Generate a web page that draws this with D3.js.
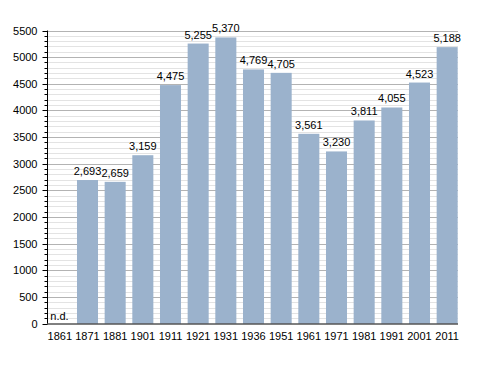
<!DOCTYPE html>
<html>
<head>
<meta charset="utf-8">
<script src="https://cdn.jsdelivr.net/npm/d3@7"></script>
<style>
  body { margin: 0; background: #fff; }
  text { font-family: "Liberation Sans", Arial, sans-serif; font-size: 11px; fill: #000; }
</style>
</head>
<body>
<div id="chart"></div>
<script>
// census years and population (1861 has no data)
const years = ["1861", "1871", "1881", "1901", "1911", "1921", "1931", "1936", "1951", "1961", "1971", "1981", "1991", "2001", "2011"];
const population = [null, 2693, 2659, 3159, 4475, 5255, 5370, 4769, 4705, 3561, 3230, 3811, 4055, 4523, 5188];
const yTicks = [0, 500, 1000, 1500, 2000, 2500, 3000, 3500, 4000, 4500, 5000, 5500];

const W = 488, H = 373;
const plotLeft = 47, plotRight = 458, plotTop = 30.5, plotBottom = 323.5;

const svg = d3.select("#chart")
  .append("svg")
  .attr("width", W)
  .attr("height", H);

const x = d3.scaleBand()
  .domain(years)
  .range([46, 461])
  .paddingInner(0.24)
  .paddingOuter(0.12);

const y = d3.scaleLinear()
  .domain([0, 5500])
  .range([plotBottom, plotTop]);

// minor grid every 100
const minor = d3.range(100, 5501, 100).filter(d => d % 500 !== 0);
svg.append("g")
  .selectAll("line")
  .data(minor)
  .enter()
  .append("line")
    .attr("x1", plotLeft).attr("x2", plotRight)
    .attr("y1", d => Math.round(y(d)) + 0.5)
    .attr("y2", d => Math.round(y(d)) + 0.5)
    .attr("stroke", "#e3e3e3");

// major grid every 500
svg.append("g")
  .selectAll("line")
  .data(yTicks.filter(d => d > 0))
  .enter()
  .append("line")
    .attr("x1", plotLeft).attr("x2", plotRight)
    .attr("y1", d => Math.round(y(d)) + 0.5)
    .attr("y2", d => Math.round(y(d)) + 0.5)
    .attr("stroke", "#b3b3b3");

// bars
svg.append("g")
  .selectAll("rect")
  .data(years.map((d, i) => ({year: d, value: population[i]})).filter(d => d.value !== null))
  .enter()
  .append("rect")
    .attr("x", d => x(d.year))
    .attr("y", d => y(d.value))
    .attr("width", x.bandwidth())
    .attr("height", d => y(0) - y(d.value))
    .attr("fill", "#9bb2cc");

// value labels
svg.append("g")
  .selectAll("text")
  .data(years.map((d, i) => ({year: d, value: population[i]})))
  .enter()
  .append("text")
    .attr("x", d => d.value === null ? x(d.year) + 1 : x(d.year) + x.bandwidth() / 2)
    .attr("y", d => d.value === null ? y(0) - 4 : y(d.value) - 5)
    .attr("text-anchor", d => d.value === null ? "start" : "middle")
    .text(d => d.value === null ? "n.d." : d3.format(",")(d.value));

// y axis with minor ticks
const yAxis = svg.append("g")
  .attr("transform", `translate(${plotLeft + 0.5},0)`);
yAxis.append("line")
  .attr("y1", plotTop).attr("y2", plotBottom)
  .attr("stroke", "#000");
yAxis.selectAll(".minor")
  .data(minor)
  .enter()
  .append("line")
    .attr("x1", -3).attr("x2", 0)
    .attr("y1", d => Math.round(y(d)) + 0.5)
    .attr("y2", d => Math.round(y(d)) + 0.5)
    .attr("stroke", "#000");
yAxis.selectAll(".major")
  .data(yTicks)
  .enter()
  .append("line")
    .attr("x1", -5).attr("x2", 0)
    .attr("y1", d => Math.round(y(d)) + 0.5)
    .attr("y2", d => Math.round(y(d)) + 0.5)
    .attr("stroke", "#000");
yAxis.selectAll("text")
  .data(yTicks)
  .enter()
  .append("text")
    .attr("x", -10)
    .attr("y", d => y(d) + 4)
    .attr("text-anchor", "end")
    .text(d => d);

// x axis
svg.append("line")
  .attr("x1", plotLeft).attr("x2", plotRight)
  .attr("y1", plotBottom + 0.5).attr("y2", plotBottom + 0.5)
  .attr("stroke", "#000");
svg.append("g")
  .selectAll("text")
  .data(years)
  .enter()
  .append("text")
    .attr("x", d => x(d) + x.bandwidth() / 2)
    .attr("y", plotBottom + 16)
    .attr("text-anchor", "middle")
    .text(d => d);
</script>
</body>
</html>
